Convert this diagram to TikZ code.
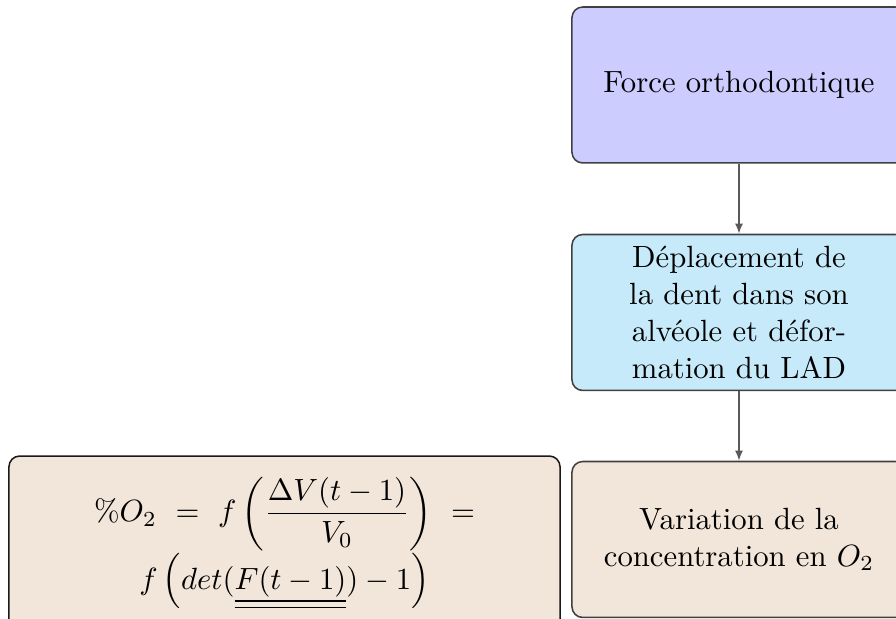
\documentclass[tikz,border=0pt]{standalone}
\usepackage{amsmath}
\usetikzlibrary{arrows.meta}
\definecolor{boxblue}{RGB}{204,204,255}
\definecolor{boxcyan}{RGB}{199,234,250}
\definecolor{boxbrown}{RGB}{242,229,217}
\begin{document}
\begin{tikzpicture}[x=0.3257pt,y=-0.3257pt,
  box/.style={draw=black!75, rounded corners=3.5pt, line width=0.5pt,
    minimum width=108.8pt, minimum height=50.8pt, align=center, inner sep=2pt},
  conn/.style={draw=black!65, line width=0.5pt, -{Latex[length=3.3pt,width=2.6pt]}}]
\useasboundingbox (0,0) rectangle (896,619);
\node[box, fill=boxblue] (force) at (739,85) {Force orthodontique};
\node[box, fill=boxcyan] (depl) at (739,312.5) {Déplacement de\\ la dent dans son\\ alvéole et défor-\\ mation du LAD};
\node[box, fill=boxbrown] (var) at (739,539.5) {Variation de la\\ concentration en $O_2$};
\node[box, fill=boxbrown, draw=black!90, minimum width=179.5pt, minimum height=58.6pt] (eq) at (284.5,546) {};
\node[align=center, inner sep=0pt] (eqtext) at (284.5,543)
  {$\displaystyle \%O_2\ =\ f\left(\frac{\Delta V(t-1)}{V_0}\right)\ =$\\
   $\displaystyle f\left(det(\underline{\underline{F(t-1)}})-1\right)$};
\draw[conn] (force) -- (depl);
\draw[conn] (depl) -- (var);
\end{tikzpicture}
\end{document}
